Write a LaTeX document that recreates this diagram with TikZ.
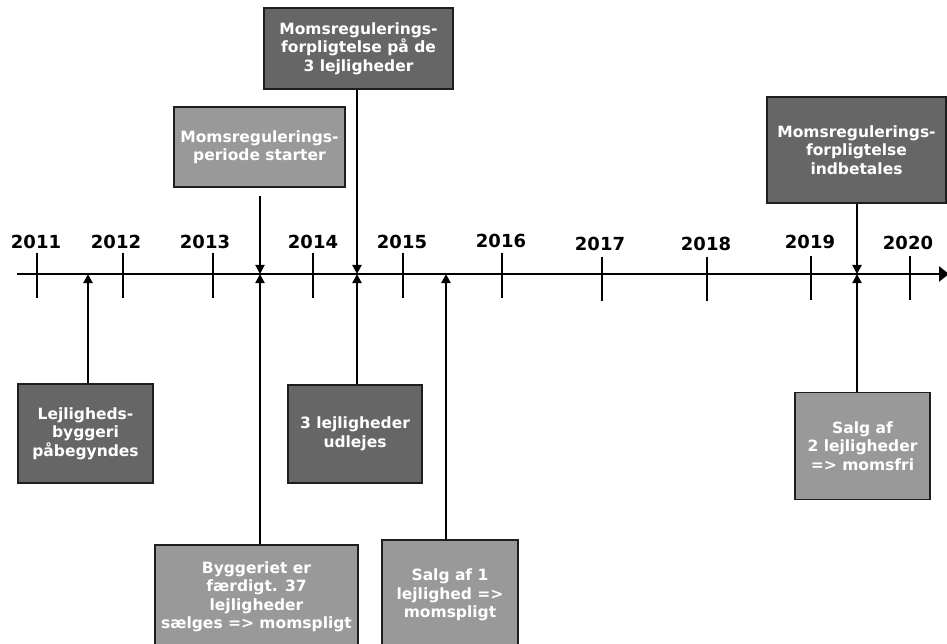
\documentclass[tikz,border=0pt]{standalone}
\usepackage{fontspec}
\setmainfont{DejaVu Sans}
\usetikzlibrary{arrows.meta}
\definecolor{boxdark}{RGB}{102,102,102}
\definecolor{boxlight}{RGB}{153,153,153}
\definecolor{boxedge}{RGB}{30,30,30}
\tikzset{
  evbox/.style={draw=boxedge, line width=1.3pt, text=white, align=center, inner sep=0pt,
    font=\bfseries\fontsize{15.5}{18.5}\selectfont},
  darkbox/.style={evbox, fill=boxdark},
  lightbox/.style={evbox, fill=boxlight},
  yearlbl/.style={font=\bfseries\fontsize{18}{20}\selectfont, inner sep=0pt},
  tickline/.style={line width=2.6pt},
  axisline/.style={line width=2.6pt, -{Triangle[width=15pt,length=10pt]}},
  conn/.style={line width=2pt, -{Triangle[width=9pt,length=9pt]}}
}
\begin{document}
\begin{tikzpicture}[x=1pt,y=-1pt]
\useasboundingbox (0,0) rectangle (947,644);
\begin{scope}
\clip (0,0) rectangle (947,644);
% axis
\coordinate (axstart) at (17,274);
\coordinate (axend) at (949,274);
\draw[axisline] (axstart) -- (axend);
% ticks
\foreach \x/\ya/\yb in {37/253/298,123/253/298,213/253/298,313/253/298,403/253/298,502/253/298,602/257/301,707/257/301,811/256/300,910/256/300}{
  \draw[tickline] (\x,\ya) -- (\x,\yb);
}
% year labels
\node[yearlbl] (y2011) at (36,242) {2011};
\node[yearlbl] (y2012) at (116,242) {2012};
\node[yearlbl] (y2013) at (205,242) {2013};
\node[yearlbl] (y2014) at (313,242) {2014};
\node[yearlbl] (y2015) at (402,242) {2015};
\node[yearlbl] (y2016) at (501,241) {2016};
\node[yearlbl] (y2017) at (600,244) {2017};
\node[yearlbl] (y2018) at (706,244) {2018};
\node[yearlbl] (y2019) at (810,242) {2019};
\node[yearlbl] (y2020) at (908,243) {2020};
% boxes
\node[darkbox, minimum width=189pt, minimum height=81pt] (A) at (358.5,48.5)
  {Momsregulerings-\\forpligtelse på de\\3 lejligheder};
\node[lightbox, minimum width=171pt, minimum height=80pt] (B) at (259.5,147)
  {Momsregulerings-\\periode starter};
\node[darkbox, minimum width=135pt, minimum height=99pt] (C) at (85.5,433.5)
  {Lejligheds-\\byggeri\\påbegyndes};
\node[darkbox, minimum width=134pt, minimum height=98pt] (D) at (355,434)
  {3 lejligheder\\udlejes};
\node[lightbox, minimum width=203pt, minimum height=104pt] (E) at (256.5,597)
  {Byggeriet er\\færdigt. 37\\lejligheder\\sælges => momspligt};
\node[lightbox, minimum width=136pt, minimum height=110pt] (F) at (450,595)
  {Salg af 1\\lejlighed =>\\momspligt};
\node[darkbox, minimum width=179pt, minimum height=106pt] (G) at (856.5,150)
  {Momsregulerings-\\forpligtelse\\indbetales};
\node[lightbox, minimum width=135pt, minimum height=107pt] (H) at (862.5,446)
  {Salg af\\2 lejligheder\\=> momsfri};
% axis points
\coordinate (pA) at (357,274);
\coordinate (pB) at (260,274);
\coordinate (pC) at (88,274);
\coordinate (pD) at (357,274);
\coordinate (pE) at (260,274);
\coordinate (pF) at (446,274);
\coordinate (pG) at (857,274);
\coordinate (pH) at (857,274);
\coordinate (bstub) at (260,196);
% connectors
\draw[conn] (A.south -| pA) -- (pA);
\draw[conn] (bstub) -- (pB);
\draw[conn] (C.north -| pC) -- (pC);
\draw[conn] (D.north -| pD) -- (pD);
\draw[conn] (E.north -| pE) -- (pE);
\draw[conn] (F.north -| pF) -- (pF);
\draw[conn] (G.south -| pG) -- (pG);
\draw[conn] (H.north -| pH) -- (pH);
\end{scope}
\end{tikzpicture}
\end{document}
